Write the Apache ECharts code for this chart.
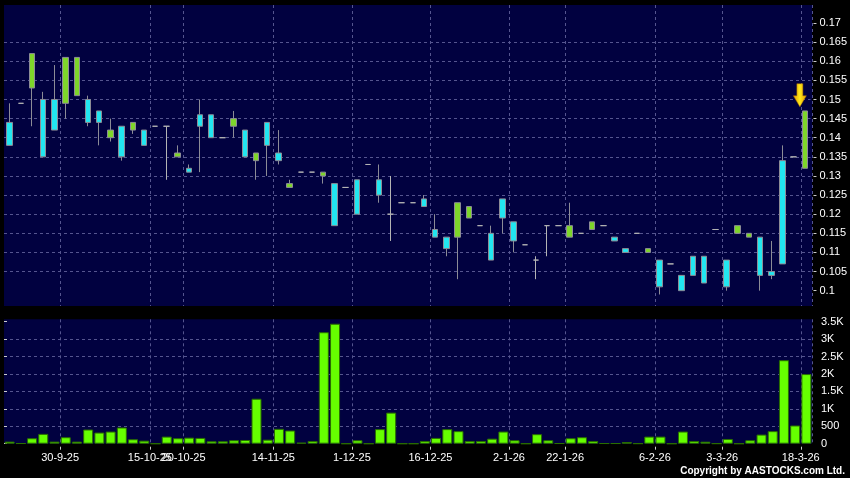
<!DOCTYPE html>
<html><head><meta charset="utf-8">
<script src="https://cdn.jsdelivr.net/npm/echarts@6/dist/echarts.min.js"></script>
<style>html,body{margin:0;padding:0;background:#000;}#c{width:850px;height:478px;}</style>
</head><body><div id="c"></div>
<script>
// [open, close, low, high]
const ohlc = [
[0.138,0.144,0.138,0.149],[0.149,0.149,0.149,0.149],[0.162,0.153,0.143,0.162],[0.135,0.150,0.135,0.152],
[0.142,0.150,0.142,0.159],[0.161,0.149,0.145,0.161],[0.161,0.151,0.151,0.161],[0.144,0.150,0.143,0.151],
[0.144,0.147,0.138,0.147],[0.142,0.140,0.139,0.145],[0.135,0.143,0.134,0.143],[0.144,0.142,0.141,0.144],
[0.138,0.142,0.138,0.142],[0.143,0.143,0.143,0.143],[0.143,0.143,0.129,0.143],[0.136,0.135,0.135,0.138],
[0.131,0.132,0.131,0.133],[0.143,0.146,0.131,0.150],[0.140,0.146,0.140,0.146],[0.140,0.140,0.140,0.140],
[0.145,0.143,0.140,0.147],[0.135,0.142,0.135,0.142],[0.136,0.134,0.129,0.136],[0.138,0.144,0.130,0.144],
[0.134,0.136,0.133,0.142],[0.128,0.127,0.127,0.129],[0.131,0.131,0.131,0.131],[0.131,0.131,0.131,0.131],
[0.131,0.130,0.128,0.131],[0.117,0.128,0.117,0.128],[0.127,0.127,0.127,0.127],[0.120,0.129,0.120,0.129],
[0.133,0.133,0.133,0.133],[0.125,0.129,0.123,0.133],[0.120,0.120,0.113,0.130],[0.123,0.123,0.123,0.123],
[0.123,0.123,0.123,0.123],[0.122,0.124,0.122,0.125],[0.114,0.116,0.114,0.120],[0.111,0.114,0.109,0.114],
[0.123,0.114,0.103,0.123],[0.122,0.119,0.119,0.122],[0.117,0.117,0.117,0.117],[0.108,0.115,0.108,0.117],
[0.119,0.124,0.115,0.124],[0.113,0.118,0.110,0.118],[0.112,0.112,0.112,0.112],[0.108,0.108,0.103,0.109],
[0.117,0.117,0.109,0.117],[0.117,0.117,0.117,0.117],[0.117,0.114,0.114,0.123],[0.115,0.115,0.115,0.115],
[0.118,0.116,0.116,0.118],[0.117,0.117,0.117,0.117],[0.113,0.114,0.113,0.114],[0.110,0.111,0.110,0.111],
[0.115,0.115,0.115,0.115],[0.111,0.110,0.110,0.111],[0.101,0.108,0.099,0.108],[0.107,0.107,0.107,0.107],
[0.100,0.104,0.100,0.104],[0.104,0.109,0.104,0.109],[0.102,0.109,0.102,0.109],[0.116,0.116,0.116,0.116],
[0.101,0.108,0.100,0.108],[0.117,0.115,0.115,0.117],[0.115,0.114,0.114,0.115],[0.104,0.114,0.100,0.114],
[0.104,0.105,0.103,0.113],[0.107,0.134,0.107,0.138],[0.135,0.135,0.135,0.135],[0.147,0.132,0.132,0.147]
];
const volume = [
60,10,157,282,60,186,60,407,320,349,465,128,87,0,204,157,174,166,70,70,99,107,1290,116,
427,378,30,78,3198,3442,0,99,0,418,892,0,0,78,166,418,360,78,78,145,349,99,0,273,99,10,
157,186,78,10,10,49,5,204,204,0,349,78,58,5,136,0,99,262,360,2395,523,1997
];
const categories = ohlc.map((_, i) => 'D' + (i + 1));
const priceTicks = [0.1,0.105,0.11,0.115,0.12,0.125,0.13,0.135,0.14,0.145,0.15,0.155,0.16,0.165,0.17];
const volTicks = [0,500,1000,1500,2000,2500,3000,3500];
const dateTickIndex = [5,13,16,24,31,38,45,50,58,64,71];
const dateTickLabels = ['30-9-25','15-10-25','20-10-25','14-11-25','1-12-25','16-12-25','2-1-26','22-1-26','6-2-26','3-3-26','18-3-26'];
const arrowPrice = 0.1481;

const FONT = 'Liberation Sans, Arial, sans-serif';
const NAVY = '#010140';
const GRIDC = '#55558f';
const chart = echarts.init(document.getElementById('c'), null, {renderer: 'canvas'});
const vSplit = {show: true, interval: (i) => dateTickIndex.includes(i), lineStyle: {color: GRIDC, type: [3, 3], width: 1}};
const hSplit = {show: true, showMinLine: false, showMaxLine: false, lineStyle: {color: GRIDC, type: [3, 3], width: 1}};
const yLab = {color: '#fff', fontSize: 11, fontFamily: FONT, margin: 6};

chart.setOption({
  animation: false,
  backgroundColor: '#000',
  title: {text: 'Copyright by AASTOCKS.com Ltd.', right: 5, top: 466, padding: 0,
    textStyle: {color: '#fff', fontSize: 10, fontWeight: 'bold', fontFamily: FONT}},
  grid: [
    {left: 4, top: 5, width: 808, height: 301, show: true, backgroundColor: NAVY, borderWidth: 0},
    {left: 4, top: 3.88, width: 808, height: 305.91},
    {left: 4, top: 319.3, width: 808, height: 124.4, show: true, backgroundColor: NAVY, borderWidth: 0},
    {left: 4, top: 321.7, width: 808, height: 122}
  ],
  xAxis: [
    {gridIndex: 0, type: 'category', data: categories, boundaryGap: true, axisLine: {show: false}, axisTick: {show: false}, axisLabel: {show: false}, splitLine: vSplit},
    {gridIndex: 1, type: 'category', data: categories, boundaryGap: true, show: false},
    {gridIndex: 2, type: 'category', data: categories, boundaryGap: true, axisLine: {show: false}, axisTick: {show: false}, axisLabel: {show: false}, splitLine: vSplit},
    {gridIndex: 3, type: 'category', data: categories, boundaryGap: true, show: false},
    {gridIndex: 3, type: 'value', min: 0, max: categories.length, position: 'bottom', offset: 3,
      axisLine: {show: false},
      axisTick: {show: true, length: 3, customValues: dateTickIndex, lineStyle: {color: '#ccc'}},
      axisLabel: {show: true, customValues: dateTickIndex, color: '#fff', fontSize: 11, fontFamily: FONT, margin: 6,
        formatter: (v) => dateTickLabels[dateTickIndex.indexOf(Math.round(v))] || ''},
      splitLine: {show: false}}
  ],
  yAxis: [
    {gridIndex: 0, type: 'value', min: 0, max: 1, show: false},
    {gridIndex: 1, type: 'value', min: 0.095, max: 0.175, interval: 0.005, position: 'right', offset: 3,
      axisLine: {show: false},
      axisTick: {show: true, length: 3, customValues: priceTicks, lineStyle: {color: '#ccc'}},
      axisLabel: Object.assign({customValues: priceTicks, formatter: (v) => String(+(+v).toFixed(3))}, yLab),
      splitLine: hSplit},
    {gridIndex: 2, type: 'value', min: 0, max: 1, show: false},
    {gridIndex: 3, type: 'value', min: 0, max: 3500, interval: 500, position: 'right', offset: 3,
      axisLine: {show: false},
      axisTick: {show: true, length: 3, customValues: volTicks, lineStyle: {color: '#ccc'}},
      axisLabel: Object.assign({customValues: volTicks, formatter: (v) => v === 0 ? '0' : (v >= 1000 ? (v / 1000) + 'K' : String(v))}, yLab),
      splitLine: hSplit}
  ],
  series: [
    {type: 'candlestick', xAxisIndex: 1, yAxisIndex: 1, data: ohlc, barWidth: 6,
      itemStyle: {color: '#22e6f0', color0: '#7ed62a', borderColor: '#8c8c96', borderColor0: '#8c8c96', borderColorDoji: '#b4b4b4', borderWidth: 1},
      markPoint: {silent: true, z: 10, label: {show: false},
        symbol: 'path://M3.5,0 L9.5,0 L9.5,12 L13,12 L6.5,23 L0,12 L3.5,12 Z',
        symbolSize: [13, 23], symbolOffset: [-5, '-50%'],
        itemStyle: {color: {type: 'linear', x: 0, y: 0, x2: 1, y2: 0, colorStops: [
          {offset: 0, color: '#e09a00'}, {offset: 0.5, color: '#ffe81a'}, {offset: 1, color: '#e09a00'}]},
          borderColor: '#a86c00', borderWidth: 0.5},
        data: [{coord: [categories[categories.length - 1], arrowPrice]}]}},
    {type: 'bar', xAxisIndex: 3, yAxisIndex: 3, data: volume, barWidth: 10,
      itemStyle: {color: '#66ff00', borderColor: '#2a6e00', borderWidth: 1}}
  ]
});
</script></body></html>
